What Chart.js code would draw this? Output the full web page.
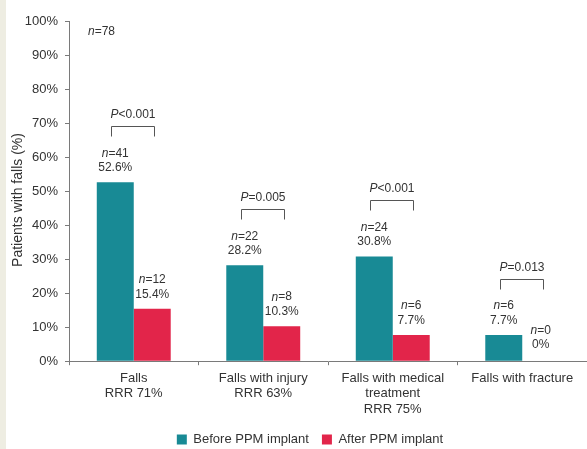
<!DOCTYPE html>
<html>
<head>
<meta charset="utf-8">
<script src="https://cdn.jsdelivr.net/npm/chart.js@4.4.1/dist/chart.umd.min.js"></script>
<style>
    html, body { margin: 0; padding: 0; background: #fff; }
    body { width: 587px; height: 449px; overflow: hidden; position: relative; }
    #faixa { position: absolute; left: 0; top: 0; width: 6px; height: 449px; background: #eeede2; }
    #caixa { position: absolute; left: 7px; top: 0; width: 580px; height: 449px; }
</style>
</head>
<body>
<div id="faixa"></div>
<div id="caixa"><canvas id="grafico"></canvas></div>
<script>
const categorias = [
    ['Falls', 'RRR 71%'],
    ['Falls with injury', 'RRR 63%'],
    ['Falls with medical', 'treatment', 'RRR 75%'],
    ['Falls with fracture']
];
const antes = [52.6, 28.2, 30.8, 7.7];
const depois = [15.4, 10.3, 7.7, 0];
const nAntes = [41, 22, 24, 6];
const nDepois = [12, 8, 6, 0];
const valoresP = ['<0.001', '=0.005', '<0.001', '=0.013'];
const nTotal = 78;
const legendas = ['Before PPM implant', 'After PPM implant'];
const tituloY = 'Patients with falls (%)';

const fonte = "'Liberation Sans', Arial, sans-serif";
const corTexto = '#333';
const corEixo = '#7a7a7a';
const corAntes = '#188a95';
const corDepois = '#e2254a';

function textoMisto(ctx, ital, resto, cx, cy) {
    ctx.font = 'italic 12px ' + fonte;
    const w1 = ctx.measureText(ital).width;
    ctx.font = '12px ' + fonte;
    const w2 = ctx.measureText(resto).width;
    const x = cx - (w1 + w2) / 2;
    ctx.textAlign = 'left';
    ctx.font = 'italic 12px ' + fonte;
    ctx.fillText(ital, x, cy);
    ctx.font = '12px ' + fonte;
    ctx.fillText(resto, x + w1, cy);
}

function formatarPct(v) {
    return v === 0 ? '0%' : v.toFixed(1) + '%';
}

const anotacoes = {
    id: 'anotacoes',
    afterLayout(chart) {
        // legenda deslocada, como no original; rotulos do eixo x podem invadir a area da legenda
        chart.legend.left += 13;
        chart.legend.right += 13;
        chart.legend.top += 11;
        chart.legend.bottom += 11;
        chart.scales.x.bottom += 40;
    },
    afterDatasetsDraw(chart) {
        const ctx = chart.ctx;
        const area = chart.chartArea;
        const m0 = chart.getDatasetMeta(0);
        const m1 = chart.getDatasetMeta(1);

        ctx.save();
        ctx.fillStyle = corTexto;
        ctx.strokeStyle = '#555';
        ctx.lineWidth = 1;
        ctx.textBaseline = 'middle';

        // titulo do eixo y
        ctx.save();
        ctx.translate(11, 200);
        ctx.rotate(-Math.PI / 2);
        ctx.textAlign = 'center';
        ctx.font = '14px ' + fonte;
        ctx.fillText(tituloY, 0, 0);
        ctx.restore();

        ctx.font = 'italic 12px ' + fonte;
        const wn = ctx.measureText('n').width;
        ctx.textAlign = 'left';
        ctx.fillText('n', area.left + 19, area.top + 11);
        ctx.font = '12px ' + fonte;
        ctx.fillText('=' + nTotal, area.left + 19 + wn, area.top + 11);

        categorias.forEach((c, i) => {
            const b0 = m0.data[i];
            const b1 = m1.data[i];

            [[b0, nAntes[i], antes[i]], [b1, nDepois[i], depois[i]]].forEach(([b, n, v]) => {
                ctx.textAlign = 'center';
                ctx.font = '12px ' + fonte;
                const off = v === 0 ? 2 : 0;
                ctx.fillText(formatarPct(v), b.x, b.y - 14.5 - off);
                textoMisto(ctx, 'n', '=' + n, b.x, b.y - 29 - off);
            });

            const topo = Math.round(Math.min(b0.y, b1.y) - 56) + 0.5;
            const xa = Math.round(b0.x - 4) + 0.5;
            const xb = Math.round(b1.x + 2) + 0.5;
            ctx.beginPath();
            ctx.moveTo(xa, topo + 10);
            ctx.lineTo(xa, topo);
            ctx.lineTo(xb, topo);
            ctx.lineTo(xb, topo + 10);
            ctx.stroke();

            textoMisto(ctx, 'P', valoresP[i], (xa + xb) / 2, topo - 12);
        });
        ctx.restore();
    }
};

new Chart(document.getElementById('grafico'), {
    type: 'bar',
    data: {
        labels: categorias,
        datasets: [
            { label: legendas[0], data: antes, backgroundColor: corAntes, borderWidth: 0 },
            { label: legendas[1], data: depois, backgroundColor: corDepois, borderWidth: 0 }
        ]
    },
    options: {
        responsive: true,
        maintainAspectRatio: false,
        animation: false,
        categoryPercentage: 0.571,
        barPercentage: 1,
        layout: { padding: { top: 21, right: 0, bottom: 4, left: 0 } },
        plugins: {
            legend: {
                position: 'bottom',
                labels: {
                    boxWidth: 10,
                    boxHeight: 10,
                    padding: 13,
                    color: corTexto,
                    font: { family: fonte, size: 13 }
                }
            },
            tooltip: { enabled: false }
        },
        scales: {
            x: {
                grid: { offset: true, drawOnChartArea: false, tickLength: 4, color: corEixo },
                border: { color: corEixo },
                ticks: {
                    color: corTexto,
                    padding: 5,
                    maxRotation: 0,
                    font: { family: fonte, size: 13 }
                },
                afterFit(s) { s.height -= 13; }
            },
            y: {
                min: 0,
                max: 100,
                grid: { drawOnChartArea: false, tickLength: 4, color: corEixo },
                border: { color: corEixo },
                ticks: {
                    stepSize: 10,
                    padding: 7,
                    color: corTexto,
                    font: { family: fonte, size: 13 },
                    callback: v => v + '%'
                },
                afterFit(s) { s.width = 62; }
            }
        }
    },
    plugins: [anotacoes]
});
</script>
</body>
</html>
